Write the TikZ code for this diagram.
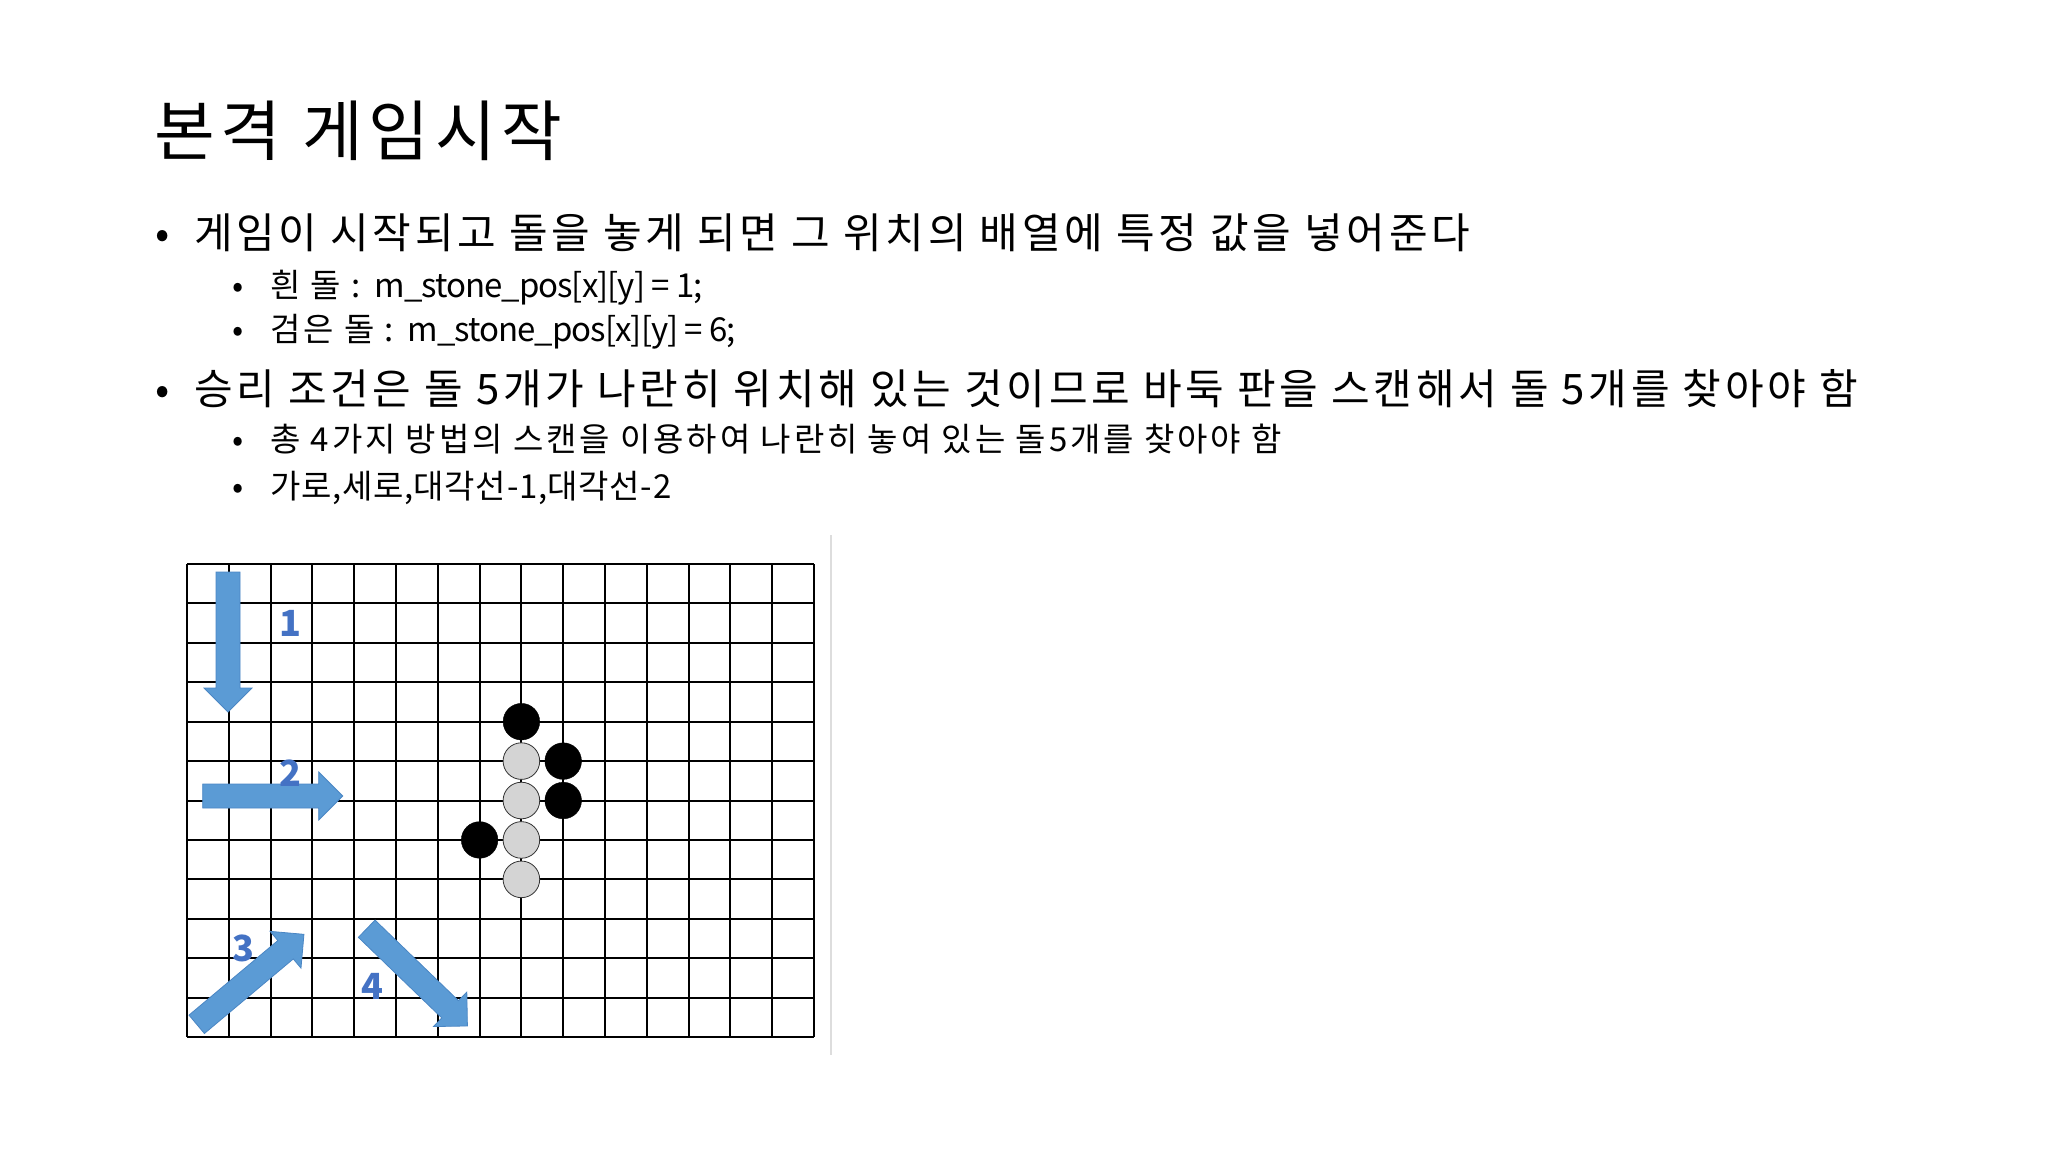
\documentclass[tikz,border=0pt]{standalone}
\usepackage{fontspec}
\setmainfont[LetterSpace=8.8]{Noto Sans CJK KR}
\newfontfamily\codefont[LetterSpace=-3]{Noto Sans CJK KR}
\newfontfamily\tightfont[LetterSpace=2]{Noto Sans CJK KR}
\usetikzlibrary{positioning}

\definecolor{arrowblue}{HTML}{5B9BD5}
\definecolor{arrowedge}{HTML}{4A86C4}
\definecolor{numblue}{HTML}{4472C4}
\definecolor{stonegray}{HTML}{D4D4D4}
\definecolor{rulegray}{HTML}{DDDDDD}

\newcommand\slidetitle{\fontsize{66}{72}\selectfont}
\newcommand\lvlone{\fontsize{42}{48}\selectfont}
\newcommand\lvltwo{\fontsize{33}{38}\selectfont}

% scan arrow: tail point, angle
\newcommand\scanarrow[2]{%
  \begin{scope}[shift={(#1)},rotate=#2]
    \draw[scan arrow] (0,-12) -- (116,-12) -- (116,-24) -- (140,0)
      -- (116,24) -- (116,12) -- (0,12) -- cycle;
  \end{scope}}

\begin{document}
\begin{tikzpicture}[
  x=1pt, y=-1pt,
  txt/.style={anchor=base west, inner sep=0pt},
  dot/.style={anchor=base, inner sep=0pt},
  grid line/.style={line width=2pt, black},
  black stone/.style={circle, draw=black, fill=black, minimum size=36.6pt, inner sep=0pt},
  white stone/.style={circle, draw=black!80, fill=stonegray, line width=0.8pt, minimum size=36.6pt, inner sep=0pt},
  scan arrow/.style={fill=arrowblue, draw=arrowedge, line width=0.8pt, line join=miter},
  scan num/.style={text=numblue, font=\fontsize{36}{40}\selectfont\bfseries, inner sep=0pt},
  ]
  \useasboundingbox[fill=white] (0,0) rectangle (2048,1152);

  % title and bullets
  \node[txt, font=\slidetitle] (title) at (154,155) {본격 게임시작};

  \node[dot, font=\lvlone] (d1) at (163,248) {•};
  \node[txt, font=\lvlone] (t1) at (194,248) {게임이 시작되고 돌을 놓게 되면 그 위치의 배열에 특정 값을 넣어준다};
  \node[dot, font=\lvltwo] (d11) at (238,297) {•};
  \node[txt, font=\lvltwo] (t11) at (270,297) {흰 돌 : {\codefont m\_stone\_pos[x][y] = 1;}};
  \node[dot, font=\lvltwo] (d12) at (238,341) {•};
  \node[txt, font=\lvltwo] (t12) at (270,341) {검은 돌 : {\codefont m\_stone\_pos[x][y] = 6;}};

  \node[dot, font=\lvlone] (d2) at (163,404) {•};
  \node[txt, font=\lvlone] (t2) at (194,404) {승리 조건은 돌 5개가 나란히 위치해 있는 것이므로 바둑 판을 스캔해서 돌 5개를 찾아야 함};
  \node[dot, font=\lvltwo] (d21) at (238,451) {•};
  \node[txt, font=\lvltwo] (t21) at (270,451) {총 4가지 방법의 스캔을 이용하여 나란히 놓여 있는 돌5개를 찾아야 함};
  \node[dot, font=\lvltwo] (d22) at (238,498) {•};
  \node[txt, font=\lvltwo\tightfont] (t22) at (270,498) {가로,세로,대각선-1,대각선-2};

  % board
  \draw[rulegray, line width=2pt] (831,535) -- (831,1055);
  \begin{scope}[shift={(187,564)}, x=41.8pt, y=-39.42pt]
    \foreach \i in {0,...,15}
      \draw[grid line] (\i,0) -- (\i,12);
    \foreach \j in {0,...,12}
      \draw[grid line] (0,\j) -- (15,\j);
    \node[black stone] (b1) at (8,4) {};
    \node[black stone] (b2) at (9,5) {};
    \node[black stone] (b3) at (9,6) {};
    \node[black stone] (b4) at (7,7) {};
    \foreach \j in {5,...,8}
      \node[white stone] (w\j) at (8,\j) {};
  \end{scope}

  % four scan directions
  \scanarrow{228,572}{-90}
  \scanarrow{202.7,796}{0}
  \scanarrow{196.7,1024.3}{40}
  \scanarrow{366.7,928.7}{-44}
  \node[scan num] (n1) at (290,623) {1};
  \node[scan num] (n2) at (290,773) {2};
  \node[scan num] (n3) at (243,948) {3};
  \node[scan num] (n4) at (372,986) {4};
\end{tikzpicture}
\end{document}
